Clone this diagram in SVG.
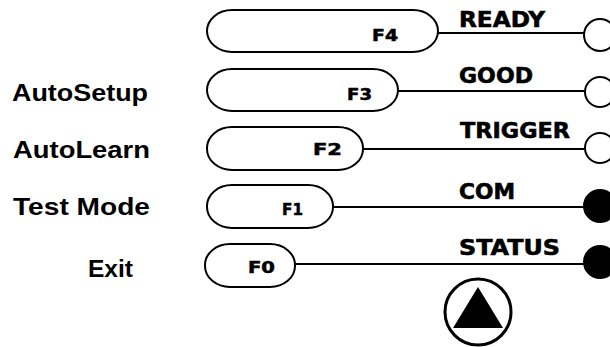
<svg xmlns="http://www.w3.org/2000/svg" width="610" height="347" viewBox="0 0 610 347">
<style>
.pill{fill:#fff;stroke:#000;stroke-width:2}
.wire{stroke:#000;stroke-width:2;fill:none}
.led-off{fill:#fff;stroke:#000;stroke-width:2}
.led-on{fill:#000;stroke:#000;stroke-width:2}
.lbl{font-family:"Liberation Sans",Arial,sans-serif;font-weight:bold;font-size:24px;fill:#000}
.sig{font-family:"DejaVu Sans","Liberation Sans",sans-serif;font-weight:bold;font-size:22px;fill:#000;stroke:#000;stroke-width:0.6}
.key{font-family:"DejaVu Sans","Liberation Sans",sans-serif;font-weight:bold;font-size:15px;fill:#000;stroke:#000;stroke-width:0.5}
</style>
<rect width="610" height="347" fill="#fff"/>
<g id="connectors">
<line class="wire" x1="438" y1="33" x2="584" y2="33"/>
<line class="wire" x1="398" y1="91" x2="584" y2="91"/>
<line class="wire" x1="363" y1="149" x2="584" y2="149"/>
<line class="wire" x1="333" y1="207" x2="584" y2="207"/>
<line class="wire" x1="295" y1="264" x2="584" y2="264"/>
</g>
<g id="labels">
<text class="lbl" x="12" y="101" textLength="136" lengthAdjust="spacingAndGlyphs">AutoSetup</text>
<text class="lbl" x="13" y="158" textLength="137" lengthAdjust="spacingAndGlyphs">AutoLearn</text>
<text class="lbl" x="13" y="215" textLength="137" lengthAdjust="spacingAndGlyphs">Test Mode</text>
<text class="lbl" x="88" y="277" textLength="45" lengthAdjust="spacingAndGlyphs">Exit</text>
</g>
<g id="key-f4">
<rect class="pill" x="207" y="10" width="231" height="42" rx="25" ry="21"/>
<text class="key" x="372" y="41" textLength="26" lengthAdjust="spacingAndGlyphs">F4</text>
</g>
<g id="key-f3">
<rect class="pill" x="207" y="69" width="191" height="42" rx="25" ry="21"/>
<text class="key" x="347" y="100" textLength="25" lengthAdjust="spacingAndGlyphs">F3</text>
</g>
<g id="key-f2">
<rect class="pill" x="207" y="127" width="156" height="43" rx="25" ry="21"/>
<text class="key" x="313" y="155" textLength="29" lengthAdjust="spacingAndGlyphs">F2</text>
</g>
<g id="key-f1">
<rect class="pill" x="207" y="185" width="126" height="43" rx="25" ry="21"/>
<text class="key" x="282" y="215" textLength="21" lengthAdjust="spacingAndGlyphs">F1</text>
</g>
<g id="key-f0">
<rect class="pill" x="205" y="244" width="90" height="43" rx="25" ry="21"/>
<text class="key" x="248" y="273" textLength="27" lengthAdjust="spacingAndGlyphs">F0</text>
</g>
<g id="led-ready">
<text class="sig" x="459" y="27" textLength="86" lengthAdjust="spacingAndGlyphs">READY</text>
<circle class="led-off" cx="600" cy="35" r="16"/>
</g>
<g id="led-good">
<text class="sig" x="459" y="83" textLength="74" lengthAdjust="spacingAndGlyphs">GOOD</text>
<circle class="led-off" cx="600" cy="92" r="15"/>
</g>
<g id="led-trigger">
<text class="sig" x="460" y="138" textLength="110" lengthAdjust="spacingAndGlyphs">TRIGGER</text>
<circle class="led-off" cx="600" cy="148" r="15"/>
</g>
<g id="led-com">
<text class="sig" x="459" y="199" textLength="56" lengthAdjust="spacingAndGlyphs">COM</text>
<circle class="led-on" cx="600" cy="206" r="16"/>
</g>
<g id="led-status">
<text class="sig" x="459" y="255" textLength="101" lengthAdjust="spacingAndGlyphs">STATUS</text>
<circle class="led-on" cx="600" cy="262" r="16"/>
</g>
<g id="up-button">
<circle cx="478" cy="312" r="33" fill="#fff" stroke="#000" stroke-width="3"/>
<polygon points="478,287 453,328 503,328" fill="#000"/>
</g>
</svg>
